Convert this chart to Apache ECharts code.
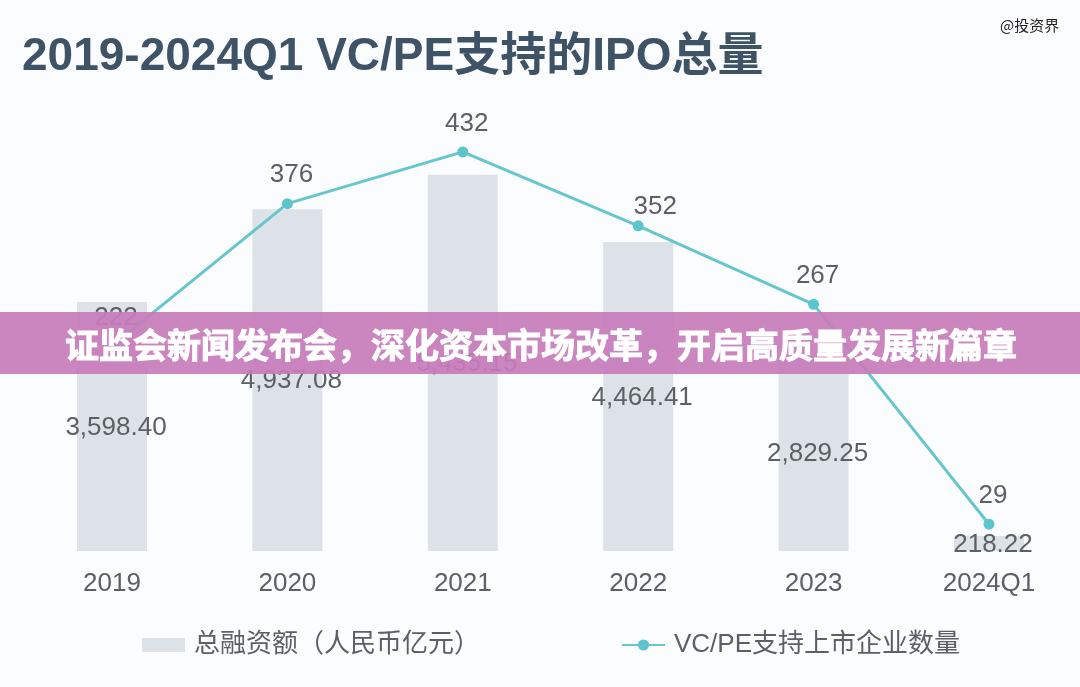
<!DOCTYPE html>
<html>
<head>
<meta charset="utf-8">
<style>html,body{margin:0;padding:0;background:#fbfcfe}#chart{width:1080px;height:687px}</style>
<script src="https://cdn.jsdelivr.net/npm/echarts@6/dist/echarts.min.js"></script>
</head>
<body>
<div id="chart"></div>
<script>
const categories = ['2019', '2020', '2021', '2022', '2023', '2024Q1'];
const financing = [3598.40, 4937.08, 5435.15, 4464.41, 2829.25, 218.22];
const ipoCount = [222, 376, 432, 352, 267, 29];
const barName = '总融资额（人民币亿元）';
const lineName = 'VC/PE支持上市企业数量';
const titleText = '2019-2024Q1 VC/PE支持的IPO总量';
const bannerText = '证监会新闻发布会，深化资本市场改革，开启高质量发展新篇章';
const watermark = '@投资界';

const fonts = '"Liberation Sans","Noto Sans CJK SC",sans-serif';
const grey = '#5d6063';

let chart = echarts.init(document.getElementById('chart'));
chart.setOption({
    animation: false,
    backgroundColor: '#fbfcfe',
    textStyle: {fontFamily: fonts},
    title: {
        text: titleText,
        left: 17,
        top: 29,
        textStyle: {fontFamily: fonts, fontSize: 46, fontWeight: 'bold', color: '#3f5366'}
    },
    legend: {
        left: 137,
        top: 627,
        itemGap: 141,
        itemWidth: 43,
        itemHeight: 14,
        textStyle: {fontFamily: fonts, fontSize: 26, color: grey, padding: [0, 0, 0, 4]},
        data: [
            {name: barName, icon: 'rect'},
            {name: lineName}
        ]
    },
    grid: {left: 24.3, width: 1052.4, top: 151, height: 400},
    xAxis: {
        type: 'category',
        data: categories,
        axisLine: {show: false},
        axisTick: {show: false},
        axisLabel: {fontSize: 26, color: grey, margin: 20}
    },
    yAxis: [
        {type: 'value', min: 0, max: 5780, show: false},
        {type: 'value', min: 0, max: 433, show: false}
    ],
    series: [
        {
            name: barName,
            type: 'bar',
            data: financing,
            barWidth: 70,
            itemStyle: {color: '#dde2e8'},
            label: {
                show: true,
                position: 'inside',
                offset: [4, 1],
                fontSize: 26,
                color: grey,
                formatter: function (p) {
                    return p.value.toLocaleString('en-US', {minimumFractionDigits: 2});
                }
            }
        },
        {
            name: lineName,
            type: 'line',
            yAxisIndex: 1,
            // the 352 label sits to the right of its point in the original
            data: ipoCount.map(function (v) {
                return v === 352 ? {value: v, label: {offset: [17, 11]}} : v;
            }),
            symbol: 'circle',
            symbolSize: 11,
            lineStyle: {color: '#66c6cd', width: 3},
            itemStyle: {color: '#5cc4cc'},
            label: {show: true, position: 'top', distance: 11, offset: [4, 1], fontSize: 26, color: grey}
        }
    ],
    graphic: [
        {
            type: 'rect',
            z: 100,
            shape: {x: 0, y: 312, width: 1080, height: 62},
            style: {fill: 'rgba(199,124,187,0.92)'}
        },
        {
            type: 'text',
            z: 101,
            x: 541,
            y: 345,
            style: {
                text: bannerText,
                align: 'center',
                verticalAlign: 'middle',
                fontFamily: '"Noto Sans CJK SC",sans-serif',
                fontSize: 34,
                fontWeight: 'bold',
                fill: '#ffffff',
                stroke: '#ffffff',
                lineWidth: 1
            }
        },
        {
            type: 'text',
            z: 101,
            x: 1000,
            y: 25,
            style: {
                text: watermark,
                align: 'left',
                verticalAlign: 'middle',
                fontFamily: '"Noto Sans CJK SC",sans-serif',
                fontSize: 15,
                fill: '#222222',
                stroke: '#ffffff',
                lineWidth: 1
            }
        }
    ]
});
</script>
</body>
</html>
